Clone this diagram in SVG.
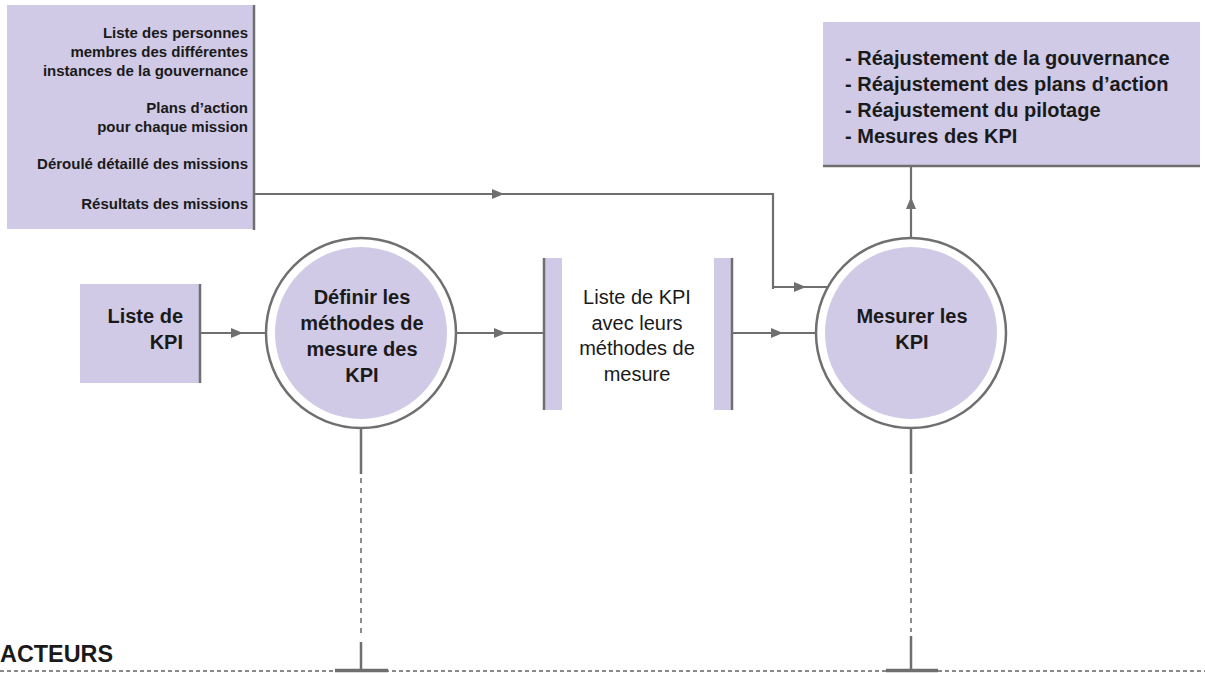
<svg xmlns="http://www.w3.org/2000/svg" width="1205" height="673" viewBox="0 0 1205 673">
<style>
.fill{fill:#d0cae6}
.edge{stroke:#6f6f6f;stroke-width:2.5;fill:none}
.ln{stroke:#6f6f6f;stroke-width:2.2;fill:none}
.b{font-family:"Liberation Sans",Arial,sans-serif;font-weight:bold;fill:#1a1a1a}
.r{font-family:"Liberation Sans",Arial,sans-serif;fill:#1a1a1a}
.dash{stroke:#707070;stroke-width:1.6;stroke-dasharray:5 5;fill:none}
</style>
<defs>
<marker id="arr" viewBox="0 0 12 10" refX="12" refY="5" markerWidth="12" markerHeight="10" markerUnits="userSpaceOnUse" orient="auto">
<path d="M0,0 L12,5 L0,10 z" fill="#6f6f6f"/>
</marker>
</defs>
<rect width="1205" height="673" fill="#ffffff"/>

<g id="connectors">
<path class="ln" d="M254,194 L504,194 L774,194" marker-mid="url(#arr)"/>
<path class="ln" d="M773,193 L773,288 L774,288"/>
<path class="ln" d="M772,287 L806,287 L827,287" marker-mid="url(#arr)"/>
<path class="ln" d="M200,333 L243,333 L266,333" marker-mid="url(#arr)"/>
<path class="ln" d="M456,333 L506,333 L543,333" marker-mid="url(#arr)"/>
<path class="ln" d="M733,333 L783,333 L816,333" marker-mid="url(#arr)"/>
<path class="ln" d="M911,237 L911,197 L911,167" marker-mid="url(#arr)"/>
<line class="edge" x1="361" y1="429" x2="361" y2="474"/>
<line class="dash" x1="361" y1="478" x2="361" y2="638"/>
<line class="edge" x1="361" y1="642" x2="361" y2="671"/>
<line class="edge" x1="911" y1="429" x2="911" y2="474"/>
<line class="dash" x1="911" y1="478" x2="911" y2="632"/>
<line class="edge" x1="911" y1="636" x2="911" y2="671"/>
</g>

<g id="inputs-top">
<rect class="fill" x="7" y="5" width="247" height="224"/>
<line class="edge" x1="254" y1="5" x2="254" y2="230"/>
<g class="b" font-size="15" text-anchor="end">
<text x="248" y="38">Liste des personnes</text>
<text x="248" y="57">membres des différentes</text>
<text x="248" y="76">instances de la gouvernance</text>
<text x="248" y="113">Plans d’action</text>
<text x="248" y="132">pour chaque mission</text>
<text x="248" y="169">Déroulé détaillé des missions</text>
<text x="248" y="209">Résultats des missions</text>
</g>
</g>

<g id="outputs-top">
<rect class="fill" x="823" y="22" width="377" height="144"/>
<line class="edge" x1="823" y1="166" x2="1200" y2="166"/>
<g class="b" font-size="20">
<text x="845" y="65">- Réajustement de la gouvernance</text>
<text x="845" y="91">- Réajustement des plans d’action</text>
<text x="845" y="117">- Réajustement du pilotage</text>
<text x="845" y="143">- Mesures des KPI</text>
</g>
</g>

<g id="liste-kpi">
<rect class="fill" x="80" y="284" width="120" height="99"/>
<line class="edge" x1="200" y1="284" x2="200" y2="383"/>
<g class="b" font-size="20" text-anchor="end">
<text x="183" y="323">Liste de</text>
<text x="183" y="349">KPI</text>
</g>
</g>

<g id="process-definir">
<circle cx="361" cy="333" r="95" fill="#ffffff" stroke="#6f6f6f" stroke-width="2.5"/>
<circle class="fill" cx="361" cy="333" r="86"/>
<g class="b" font-size="20" text-anchor="middle">
<text x="362" y="304">Définir les</text>
<text x="362" y="330">méthodes de</text>
<text x="362" y="356">mesure des</text>
<text x="362" y="382">KPI</text>
</g>
</g>

<g id="store-kpi">
<rect class="fill" x="543" y="258" width="19" height="152"/>
<line class="edge" x1="544" y1="258" x2="544" y2="410"/>
<rect class="fill" x="714" y="258" width="19" height="152"/>
<line class="edge" x1="732" y1="258" x2="732" y2="410"/>
<g class="r" font-size="20" text-anchor="middle">
<text x="637" y="304">Liste de KPI</text>
<text x="637" y="330">avec leurs</text>
<text x="637" y="355">méthodes de</text>
<text x="637" y="381">mesure</text>
</g>
</g>

<g id="process-mesurer">
<circle cx="911" cy="333" r="95" fill="#ffffff" stroke="#6f6f6f" stroke-width="2.5"/>
<circle class="fill" cx="911" cy="333" r="86"/>
<g class="b" font-size="20" text-anchor="middle">
<text x="912" y="323">Mesurer les</text>
<text x="912" y="349">KPI</text>
</g>
</g>

<g id="acteurs">
<line x1="0" y1="671" x2="1205" y2="671" stroke="#8a8a8a" stroke-width="2" stroke-dasharray="4 3"/>
<line x1="335" y1="670.5" x2="388" y2="670.5" stroke="#6f6f6f" stroke-width="3.5"/>
<line x1="886" y1="670.5" x2="938" y2="670.5" stroke="#6f6f6f" stroke-width="3.5"/>
<text class="b" x="0" y="662" font-size="24" textLength="113" lengthAdjust="spacingAndGlyphs" fill="#000">ACTEURS</text>
</g>
</svg>
